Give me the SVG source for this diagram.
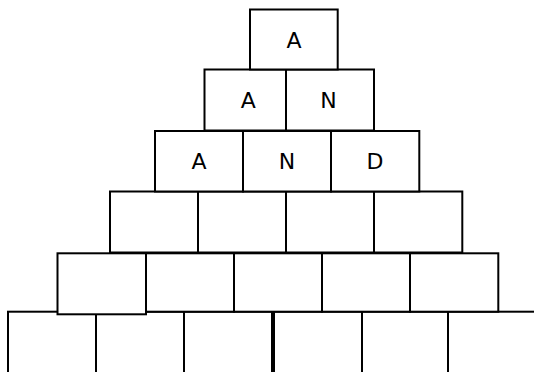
<svg xmlns="http://www.w3.org/2000/svg" width="534" height="372" viewBox="0 0 534 372">
<style>
rect{fill:#fff;stroke:#000;stroke-width:2}
text{font-family:"DejaVu Sans",sans-serif;font-size:22px;text-anchor:middle;fill:#000}
</style>
<rect x="0" y="0" width="534" height="372" style="stroke:none"/>
<g id="row6">
<g id="r6b1"><rect x="8" y="311.7" width="88" height="70"/></g>
<g id="r6b2"><rect x="96" y="311.7" width="88" height="70"/></g>
<g id="r6b3"><rect x="184" y="311.7" width="88" height="70"/></g>
<g id="r6b4"><rect x="274" y="311.7" width="88" height="70"/></g>
<g id="r6b5"><rect x="362" y="311.7" width="86" height="70"/></g>
<g id="r6b6"><rect x="448" y="311.7" width="100" height="70"/></g>
</g>
<g id="row5">
<g id="r5b1"><rect x="57.5" y="253.3" width="88.5" height="61"/></g>
<g id="r5b2"><rect x="146" y="253.3" width="88" height="58.4"/></g>
<g id="r5b3"><rect x="234" y="253.3" width="88" height="58.4"/></g>
<g id="r5b4"><rect x="322" y="253.3" width="88" height="58.4"/></g>
<g id="r5b5"><rect x="410" y="253.3" width="88.3" height="58.4"/></g>
</g>
<g id="row4">
<g id="r4b1"><rect x="110" y="191.5" width="88" height="61"/></g>
<g id="r4b2"><rect x="198" y="191.5" width="88" height="61"/></g>
<g id="r4b3"><rect x="286" y="191.5" width="88" height="61"/></g>
<g id="r4b4"><rect x="374" y="191.5" width="88.3" height="61"/></g>
</g>
<g id="row3">
<g id="r3b1"><rect x="155" y="131" width="88" height="60.5"/><text x="199" y="169">A</text></g>
<g id="r3b2"><rect x="243" y="131" width="88" height="60.5"/><text x="287" y="169">N</text></g>
<g id="r3b3"><rect x="331" y="131" width="88.3" height="60.5"/><text x="375" y="169">D</text></g>
</g>
<g id="row2">
<g id="r2b1"><rect x="204.5" y="69.5" width="88" height="61"/><text x="248.3" y="108.3">A</text></g>
<g id="r2b2"><rect x="286" y="69.5" width="88" height="61"/><text x="328.5" y="108.3">N</text></g>
</g>
<g id="row1">
<g id="r1b1"><rect x="250" y="9.5" width="87.7" height="60"/><text x="294" y="47.5">A</text></g>
</g>
</svg>
